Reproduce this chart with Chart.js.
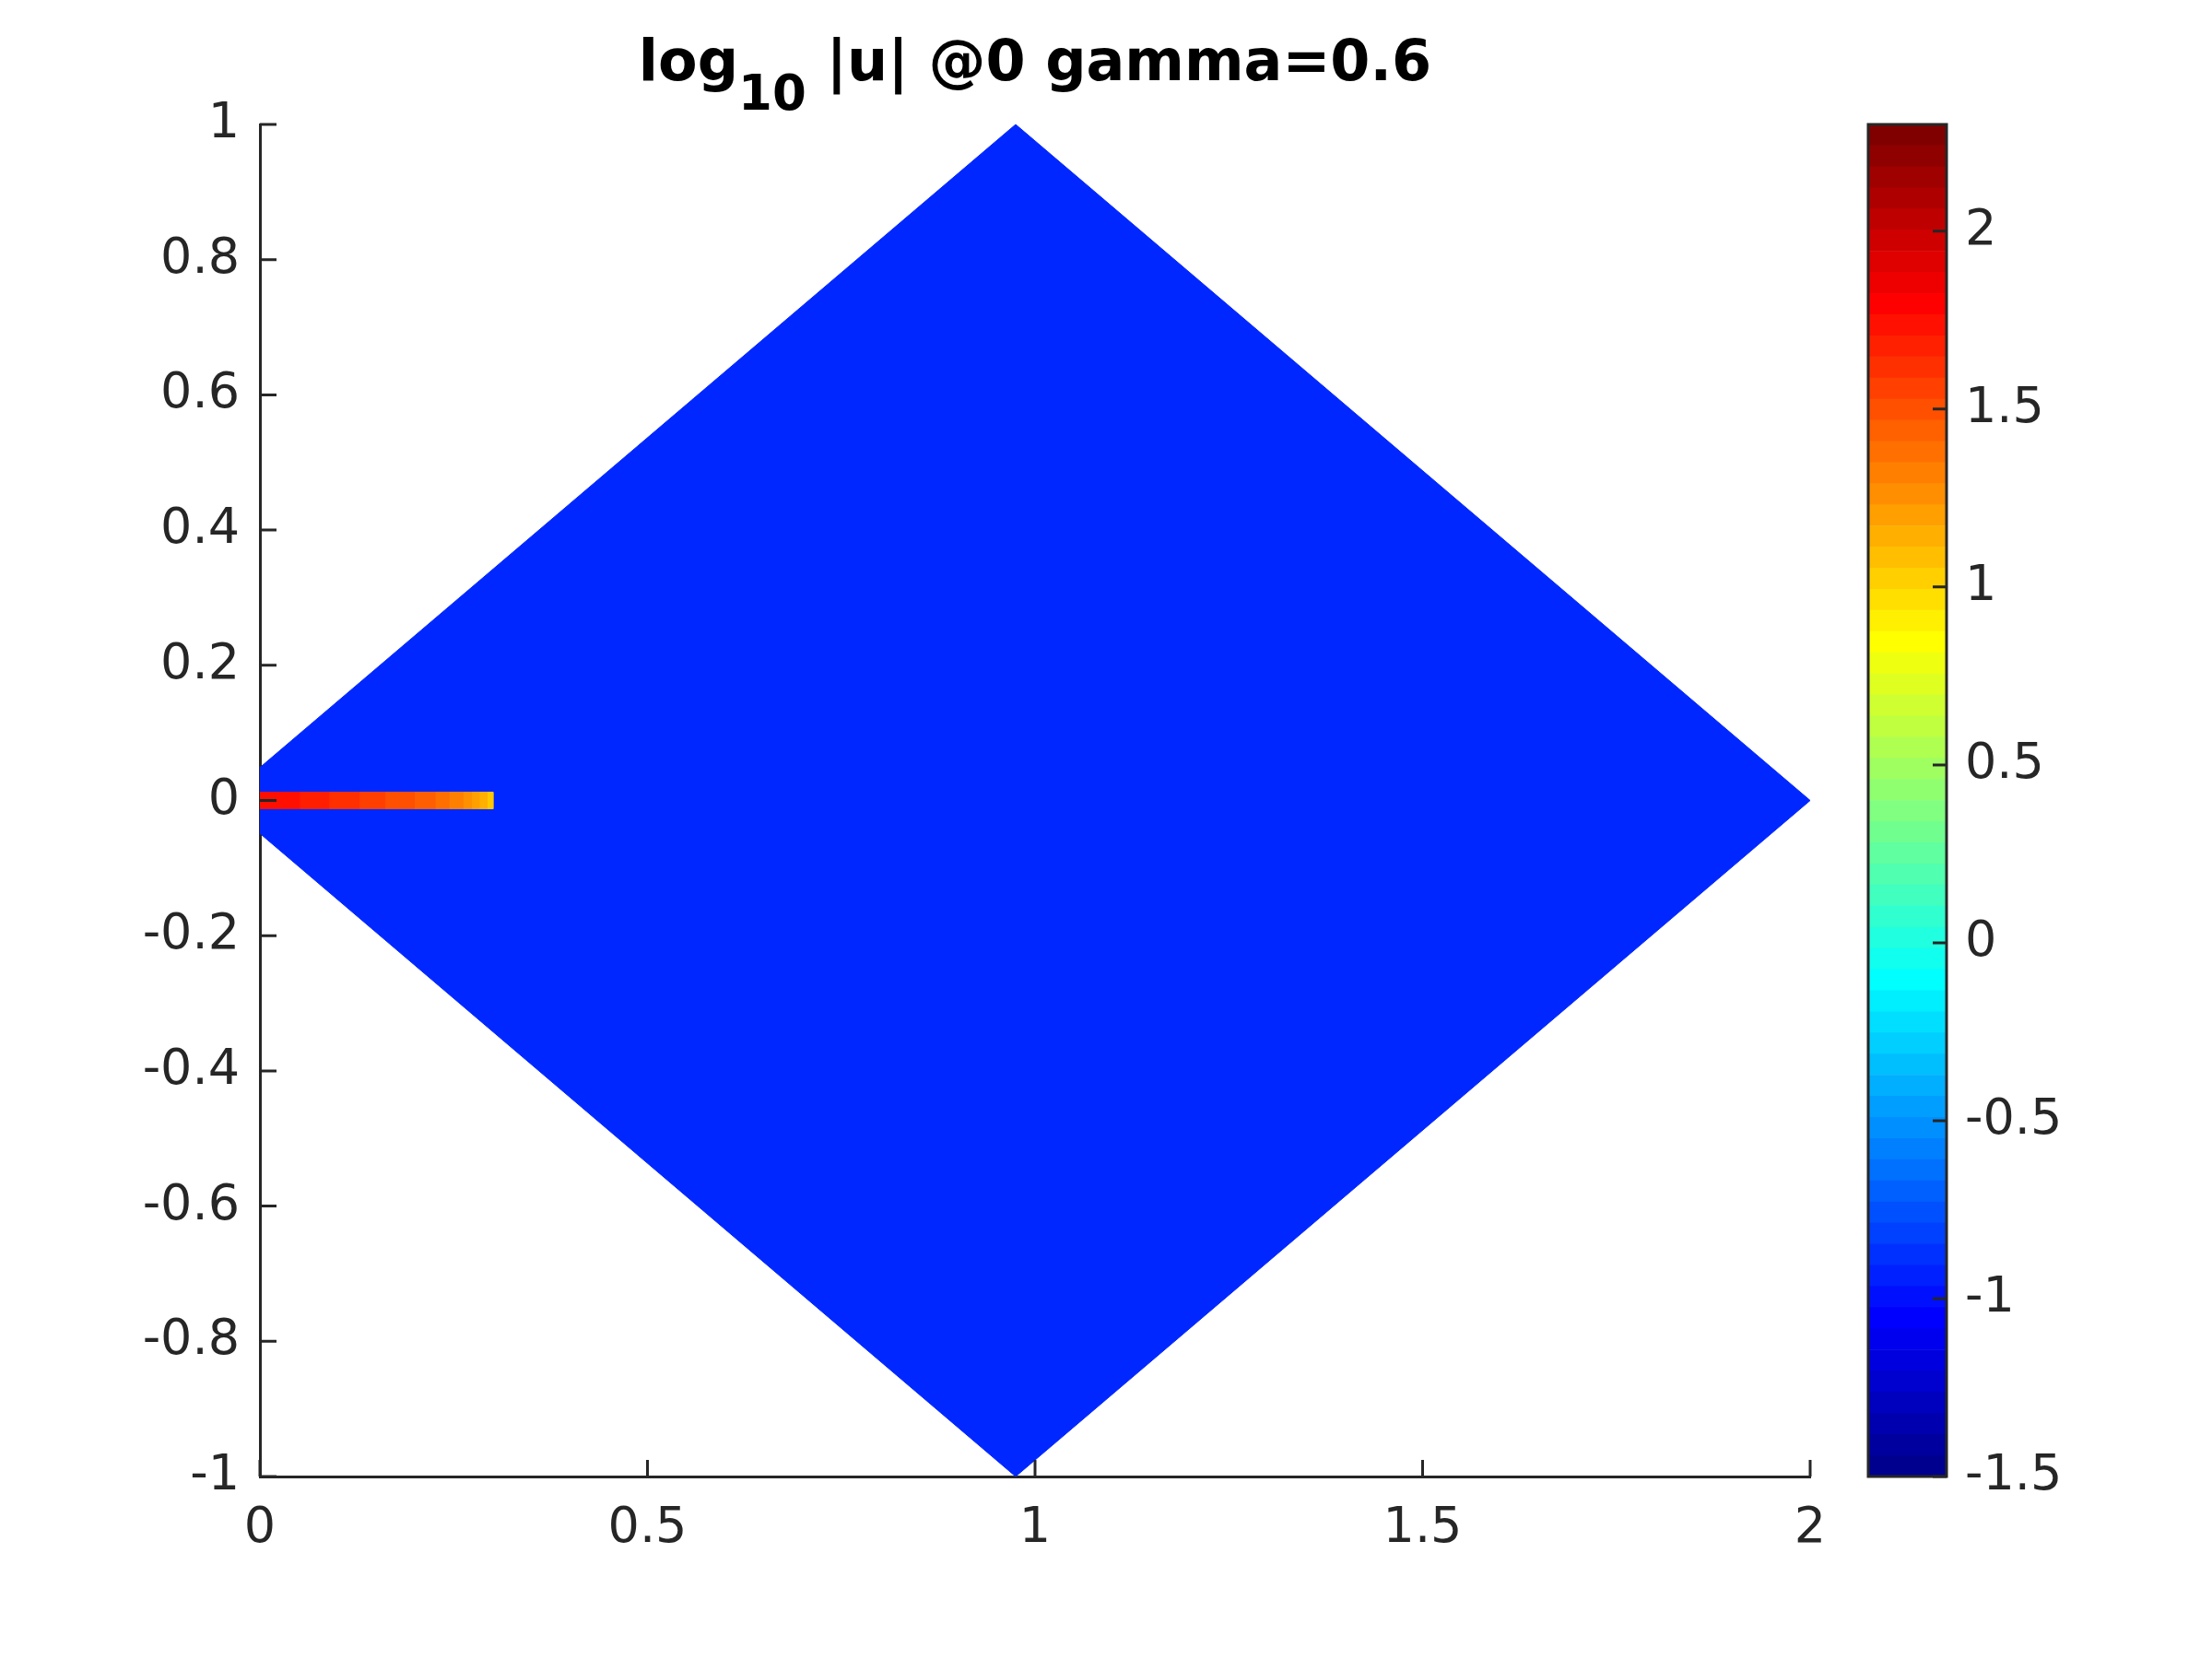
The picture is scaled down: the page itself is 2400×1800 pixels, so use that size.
<!DOCTYPE html>
<html>
<head>
<meta charset="utf-8">
<script src="https://cdn.jsdelivr.net/npm/chart.js@4/dist/chart.umd.min.js"></script>
<style>
  html, body { margin: 0; padding: 0; background: #fff; }
  #wrap { position: relative; width: 2400px; height: 1800px; background: #fff; }
  #mainCanvas { position: absolute; left: 0; top: 0; }
  #cbCanvas { position: absolute; left: 2000px; top: 0; }
  #title {
    position: absolute; left: 282px; width: 1682px; top: 35px;
    text-align: center; font-family: 'DejaVu Sans'; font-weight: bold;
    font-size: 62px; line-height: 1; color: #000; white-space: nowrap;
  }
  #title sub { font-size: 53px; vertical-align: -32px; line-height: 0; }
</style>
</head>
<body>
<div id="wrap">
  <canvas id="mainCanvas" width="2400" height="1800"></canvas>
  <canvas id="cbCanvas" width="400" height="1800"></canvas>
  <div id="title">log<sub>10</sub> |u| @0 gamma=0.6</div>
</div>
<script>
// ------------------ DATA ------------------
const xTicks = [0, 0.5, 1, 1.5, 2];
const yTicks = [-1, -0.8, -0.6, -0.4, -0.2, 0, 0.2, 0.4, 0.6, 0.8, 1];
const cbTicks = [-1.5, -1, -0.5, 0, 0.5, 1, 1.5, 2];
const cbMin = -1.5;
const cbMax = 2.3;

// domain outline (log10|u| is almost flat over it)
const diamondX = [-0.05, 0.975, 2, 0.975];
const diamondY = [0, 1, 0, -1];
const diamondValue = -0.91;

// thin strip of cells along y = 0 (graded towards the tip)
const stripEdges = [0, 0.051, 0.089, 0.128, 0.161, 0.199, 0.226, 0.244, 0.262, 0.273, 0.283, 0.293, 0.301];
const stripValues = [1.74, 1.68, 1.62, 1.56, 1.50, 1.44, 1.38, 1.32, 1.26, 1.20, 1.14, 1.05];
const stripHalf = 0.0123;

// ------------------ COLORMAP (MATLAB jet) ------------------
function jetMap(n) {
  const m = Math.ceil(n / 4);
  const u = [];
  for (let i = 1; i <= m; i++) u.push(i / m);
  for (let i = 0; i < m - 1; i++) u.push(1);
  for (let i = m; i >= 1; i--) u.push(i / m);
  const off = Math.ceil(m / 2) - (n % 4 === 1 ? 1 : 0);
  const map = Array.from({ length: n }, () => [0, 0, 0]);
  const g = u.map((_, k) => off + k + 1);
  const r = g.map(v => v + m).filter(v => v <= n);
  const b = g.map(v => v - m).filter(v => v >= 1);
  const gg = g.filter(v => v <= n);
  r.forEach((idx, k) => { map[idx - 1][0] = u[k]; });
  gg.forEach((idx, k) => { map[idx - 1][1] = u[k]; });
  b.forEach((idx, k) => { map[idx - 1][2] = u[u.length - b.length + k]; });
  return map;
}
const JET = jetMap(64);

function rgb(c) {
  return "rgb(" + Math.round(c[0] * 255) + "," + Math.round(c[1] * 255) + "," + Math.round(c[2] * 255) + ")";
}

function colorFor(v) {
  let pos = (v - cbMin) / (cbMax - cbMin) * JET.length - 0.5;
  pos = Math.max(0, Math.min(JET.length - 1, pos));
  const i0 = Math.floor(pos);
  const i1 = Math.min(JET.length - 1, i0 + 1);
  const f = pos - i0;
  const c = [0, 1, 2].map(k => JET[i0][k] * (1 - f) + JET[i1][k] * f);
  return rgb(c);
}

// matlab prints 1 not 1.0
const fmt = v => String(Math.round(v * 100) / 100);

// ------------------ COMMON ------------------
const AXIS_COLOR = "#262626";
Chart.defaults.font.family = "'DejaVu Sans'";
Chart.defaults.font.size = 54;
Chart.defaults.color = AXIS_COLOR;
Chart.defaults.animation = false;

// MATLAB style ticks pointing into the axes
const inwardTicks = {
  id: "inwardTicks",
  afterDraw(chart, args, opts) {
    const ctx = chart.ctx;
    const area = chart.chartArea;
    ctx.save();
    ctx.strokeStyle = AXIS_COLOR;
    ctx.lineWidth = 3;
    ctx.beginPath();
    if (opts.x) {
      const xs = chart.scales.x;
      xs.ticks.forEach(t => {
        const px = xs.getPixelForValue(t.value);
        ctx.moveTo(px, area.bottom);
        ctx.lineTo(px, area.bottom - opts.len);
      });
    }
    if (opts.y) {
      const ys = chart.scales.y;
      ys.ticks.forEach(t => {
        const py = ys.getPixelForValue(t.value);
        if (opts.side === "right") {
          ctx.moveTo(area.right, py);
          ctx.lineTo(area.right - opts.len, py);
        } else {
          ctx.moveTo(area.left, py);
          ctx.lineTo(area.left + opts.len, py);
        }
      });
    }
    ctx.stroke();
    if (opts.box) {
      ctx.lineWidth = 3;
      ctx.strokeRect(area.left, area.top, area.right - area.left, area.bottom - area.top);
    }
    ctx.restore();
  }
};

// ------------------ MAIN PLOT ------------------
function polygon(xs, ys) {
  const pts = xs.map((x, i) => ({ x: x, y: ys[i] }));
  pts.push({ x: xs[0], y: ys[0] });
  return pts;
}

const datasets = [];
stripValues.forEach((v, i) => {
  const x0 = stripEdges[i], x1 = stripEdges[i + 1];
  const col = colorFor(v);
  datasets.push({
    data: polygon([x0, x1, x1, x0], [-stripHalf, -stripHalf, stripHalf, stripHalf]),
    showLine: true, fill: "shape", backgroundColor: col, borderColor: col,
    borderWidth: 1, pointRadius: 0, tension: 0, clip: 0, order: 0
  });
});
const diamondColor = colorFor(diamondValue);
datasets.push({
  data: polygon(diamondX, diamondY),
  showLine: true, fill: "shape", backgroundColor: diamondColor, borderColor: diamondColor,
  borderWidth: 1, pointRadius: 0, tension: 0, clip: 0, order: 1
});

new Chart(document.getElementById("mainCanvas"), {
  type: "scatter",
  data: { datasets: datasets },
  options: {
    responsive: false,
    layout: { padding: { top: 135, right: 436, left: 0, bottom: 0 } },
    plugins: {
      legend: { display: false },
      tooltip: { enabled: false },
      inwardTicks: { x: true, y: true, len: 18 }
    },
    scales: {
      x: {
        type: "linear", min: 0, max: 2,
        grid: { display: false, drawTicks: false },
        border: { display: true, color: AXIS_COLOR, width: 3 },
        afterBuildTicks: s => { s.ticks = xTicks.map(v => ({ value: v })); },
        afterFit: s => { s.height = 198; },
        ticks: { padding: 25, maxRotation: 0, autoSkip: false, callback: fmt }
      },
      y: {
        type: "linear", min: -1, max: 1,
        grid: { display: false, drawTicks: false },
        border: { display: true, color: AXIS_COLOR, width: 3 },
        afterBuildTicks: s => { s.ticks = yTicks.map(v => ({ value: v })); },
        afterFit: s => { s.width = 282; },
        ticks: { padding: 22, autoSkip: false, callback: fmt }
      }
    }
  },
  plugins: [inwardTicks]
});

// ------------------ COLORBAR ------------------
const step = (cbMax - cbMin) / JET.length;
const cbSets = JET.map((c, i) => ({
  data: [[cbMin + i * step, cbMin + (i + 1) * step]],
  backgroundColor: rgb(c),
  borderWidth: 0,
  grouped: false,
  barPercentage: 1,
  categoryPercentage: 1
}));

new Chart(document.getElementById("cbCanvas"), {
  type: "bar",
  data: { labels: [""], datasets: cbSets },
  options: {
    responsive: false,
    layout: { padding: { top: 135, left: 27, bottom: 198, right: 0 } },
    plugins: {
      legend: { display: false },
      tooltip: { enabled: false },
      inwardTicks: { y: true, side: "right", len: 15, box: true }
    },
    scales: {
      x: { display: false },
      y: {
        position: "right", min: cbMin, max: cbMax,
        grid: { display: false, drawTicks: false },
        border: { display: false },
        afterBuildTicks: s => { s.ticks = cbTicks.map(v => ({ value: v })); },
        afterFit: s => { s.width = 288; },
        ticks: { padding: 20, autoSkip: false, callback: fmt }
      }
    }
  },
  plugins: [inwardTicks]
});
</script>
</body>
</html>
